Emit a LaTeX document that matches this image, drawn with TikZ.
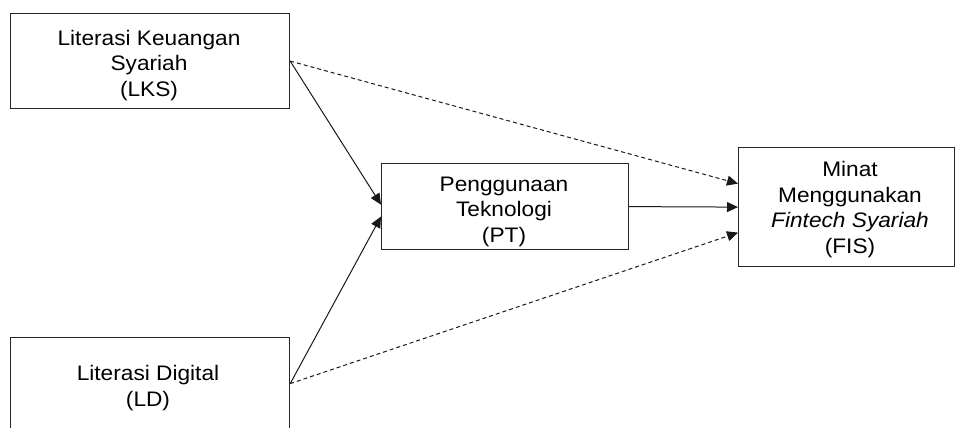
\documentclass[tikz,border=0pt]{standalone}
\usepackage{fontspec}
\setmainfont[FakeStretch=1.08]{Liberation Sans}
\usetikzlibrary{arrows.meta}
\begin{document}
\begin{tikzpicture}[x=1pt,y=-1pt,
  boxnode/.style={draw=black!85,line width=1.2pt,rectangle,inner sep=0pt,anchor=north west},
  txt/.style={align=center,inner sep=0pt,text=black,font={\fontsize{21}{25.5}\selectfont}},
  conn/.style={line width=1pt,draw=black!90,-{Triangle[length=11pt,width=10pt]}},
  dconn/.style={conn,dash pattern=on 4pt off 3pt}]
\useasboundingbox (0,0) rectangle (955,428);
\clip (0,0) rectangle (955,428);
\node[boxnode,minimum width=279pt,minimum height=95pt] (lks) at (10,13) {};
\node[boxnode,minimum width=279pt,minimum height=92pt] (lds) at (10,337) {};
\node[boxnode,minimum width=247pt,minimum height=86pt] (pt) at (381,163) {};
\node[boxnode,minimum width=216pt,minimum height=119pt] (fis) at (738,147) {};
\node[txt] (lkst) at (149,65.5) {Literasi Keuangan\\Syariah\\(LKS)};
\node[txt] (ldst) at (148,388) {Literasi Digital\\(LD)};
\node[txt] (ptt) at (504,211.5) {Penggunaan\\Teknologi\\(PT)};
\node[txt] (fist) at (850,209.5) {Minat\\Menggunakan\\\textit{Fintech Syariah}\\(FIS)};
\draw[conn] (lks.east) -- ([yshift=2pt]pt.west);
\draw[conn] (lds.east) -- ([yshift=-10pt]pt.west);
\draw[conn] (pt.east) -- (fis.west);
\draw[dconn] (lks.east) -- ([yshift=23.5pt]fis.west);
\draw[dconn] (lds.east) -- ([yshift=-25.5pt]fis.west);
\end{tikzpicture}
\end{document}
